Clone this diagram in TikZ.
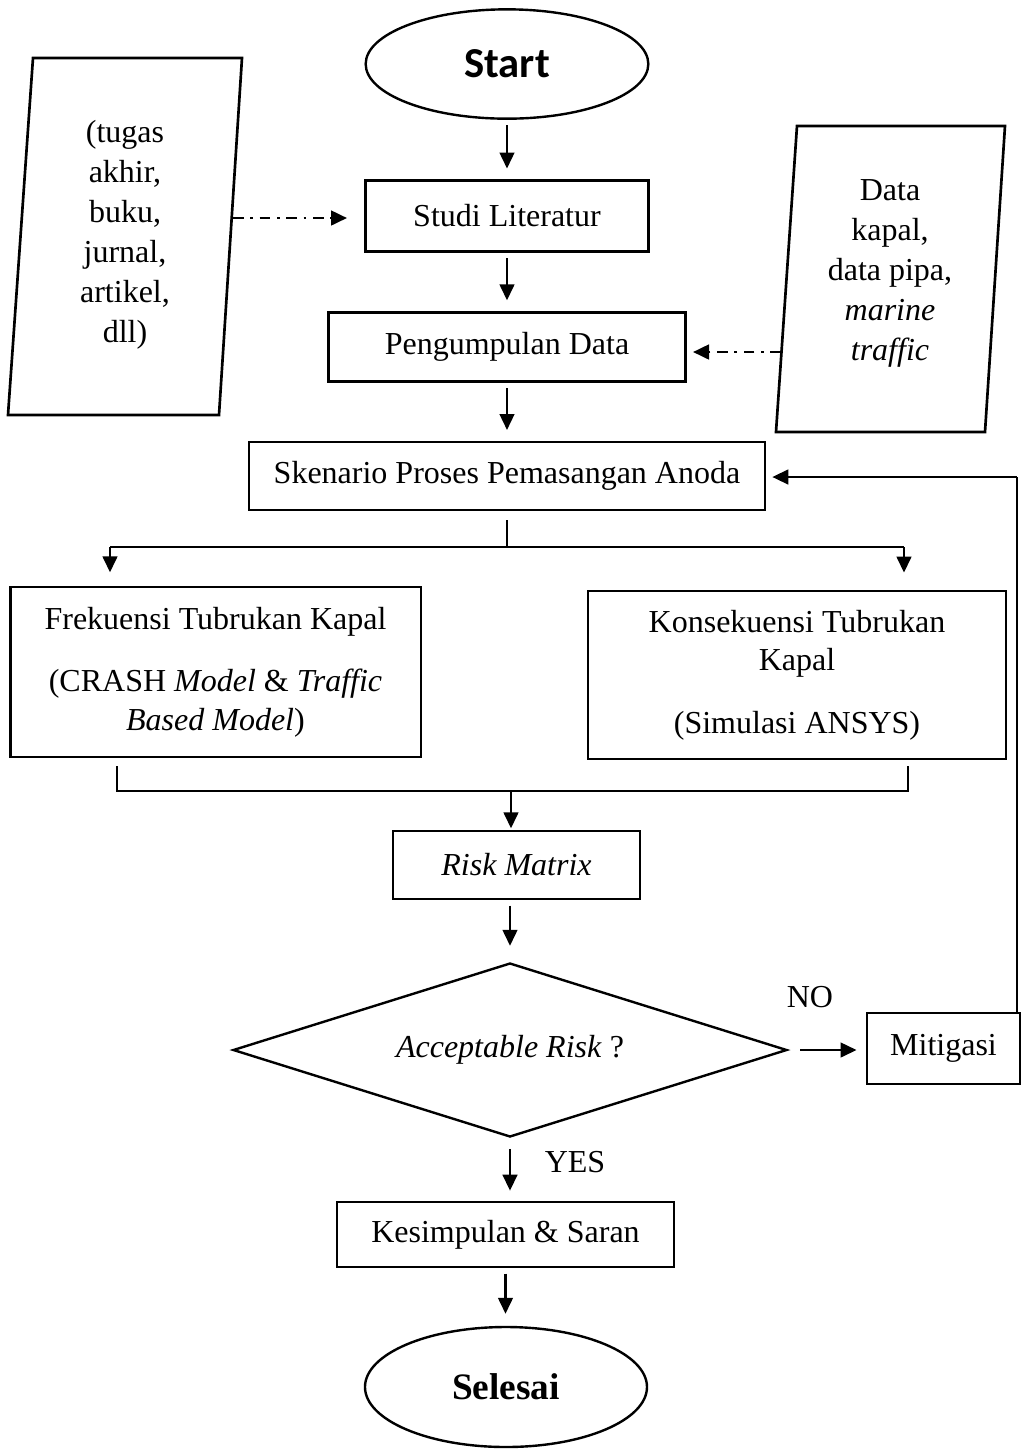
\documentclass[tikz,border=0pt]{standalone}
\usepackage{fontspec}
\setmainfont{Liberation Serif}
\newfontfamily\startfont{Carlito}
\usetikzlibrary{arrows.meta,positioning,shapes.geometric}
\tikzset{
	box/.style={draw,rectangle,line width=1pt,align=center,inner sep=2pt},
	term/.style={draw,ellipse,line width=0.9pt,inner sep=0pt},
	check/.style={draw,diamond,aspect=3.18,line width=0.9pt,inner sep=0pt},
	io/.style={line width=1pt},
	flow/.style={-{Triangle[length=6pt,width=5.5pt]},line width=0.9pt,shorten <=2pt,shorten >=4pt},
	infoflow/.style={-{Triangle[length=6pt,width=5.5pt]},line width=1pt,dash pattern=on 4pt off 2.5pt on 1pt off 2.5pt},
	link/.style={line width=0.5pt},
	every node/.style={font=\fontsize{12}{14.5}\selectfont}
}
\begin{document}
\begin{tikzpicture}[x=0.375pt,y=-0.375pt]
	\useasboundingbox (0,0) rectangle (1022,1452);
	\node[term,minimum width=106pt,minimum height=41pt] (start) at (507,64) {\startfont\bfseries\fontsize{16}{19}\selectfont Start};
	\node[box,minimum width=106pt,minimum height=26.6pt] (studi) at (507,216) {Studi Literatur};
	\node[box,minimum width=134pt,minimum height=26pt] (kumpul) at (507,347) {Pengumpulan Data};
	\node[box,minimum width=193.5pt,minimum height=25.5pt] (skenario) at (507,476) {Skenario Proses Pemasangan Anoda};
	\node[box,minimum width=154pt,minimum height=63.75pt] (frekuensi) at (215.5,672) {Frekuensi Tubrukan Kapal\\[9pt](CRASH \textit{Model} \& \textit{Traffic}\\\textit{Based Model})};
	\node[box,minimum width=156.75pt,minimum height=63pt] (konsekuensi) at (797,675) {Konsekuensi Tubrukan\\Kapal\\[9pt](Simulasi ANSYS)};
	\node[box,minimum width=92.6pt,minimum height=25.5pt] (risk) at (516.5,865) {\textit{Risk Matrix}};
	\node[check,minimum width=207.75pt,minimum height=65.25pt] (accept) at (510,1050) {\textit{Acceptable Risk} ?};
	\node[box,minimum width=57.4pt,minimum height=26.6pt] (mitigasi) at (943.5,1048.5) {Mitigasi};
	\node[box,minimum width=126.4pt,minimum height=24.4pt] (simpulan) at (505.5,1234.5) {Kesimpulan \& Saran};
	\node[term,minimum width=105.75pt,minimum height=45pt] (selesai) at (506,1387) {\bfseries\fontsize{14}{17}\selectfont Selesai};

	\draw[io] (33,58) -- (242,58) -- (219,415) -- (8,415) -- cycle;
	\node[align=center,font=\fontsize{12}{15}\selectfont] (pustaka) at (125,235) {(tugas\\akhir,\\buku,\\jurnal,\\artikel,\\dll)};
	\draw[io] (797,126) -- (1005,126) -- (985,432) -- (776,432) -- cycle;
	\node[align=center,font=\fontsize{12}{15}\selectfont] (data) at (890,273) {Data\\kapal,\\data pipa,\\\textit{marine}\\\textit{traffic}};

	\coordinate (pustakaR) at (233,218);
	\coordinate (dataL) at (781,352);
	\coordinate (split) at (507,547);
	\coordinate (splitL) at (110,547);
	\coordinate (splitR) at (904,547);
	\coordinate (mergeL) at (117,791);
	\coordinate (mergeR) at (908,791);
	\coordinate (merge) at (511,791);
	\coordinate (back) at (1017,477);

	\draw[flow] (start) -- (studi);
	\draw[flow] (studi) -- (kumpul);
	\draw[flow] (kumpul) -- (skenario);
	\draw[infoflow,shorten >=6.5pt] (pustakaR) -- (pustakaR -| studi.west);
	\draw[infoflow,shorten >=2.25pt] (dataL) -- (dataL -| kumpul.east);
	\draw[link] ([yshift=-3.4pt]skenario.south) -- (split);
	\draw[line width=0.9pt] (splitL) -- (splitR);
	\draw[flow,shorten <=0pt,shorten >=5pt] (splitL) -- (splitL |- frekuensi.north);
	\draw[flow,shorten <=0pt,shorten >=6.4pt] (splitR) -- (splitR |- konsekuensi.north);
	\draw[link] ([yshift=-3pt]frekuensi.south -| mergeL) -- (mergeL) -- (mergeR) -- ([yshift=-2.3pt]konsekuensi.south -| mergeR);
	\draw[flow,shorten <=0pt,shorten >=0.5pt] (merge) -- (merge |- risk.north);
	\draw[flow,shorten >=6pt] (risk.south -| accept) -- (accept.north);
	\draw[flow,shorten <=4.5pt,shorten >=3.4pt] (accept.east) -- (accept.east -| mitigasi.west);
	\draw[flow,shorten <=4pt,shorten >=3.75pt] (accept.south) -- (accept.south |- simpulan.north);
	\draw[flow,shorten >=4.5pt] (simpulan.south) -- (simpulan.south |- selesai.north);
	\draw[link] (mitigasi.north -| back) -- (back);
	\draw[flow,shorten <=0pt,shorten >=2.25pt] (back) -- (back -| skenario.east);

	\node (no) at (810,997) {NO};
	\node (yes) at (575,1162) {YES};
\end{tikzpicture}
\end{document}
